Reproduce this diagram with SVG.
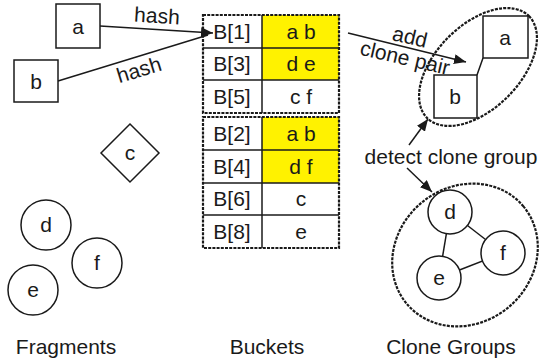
<svg xmlns="http://www.w3.org/2000/svg" width="540" height="362" viewBox="0 0 540 362">
<defs>
<style>
text{font-family:"Liberation Sans",Arial,sans-serif;font-size:21px;fill:#1a1a1a;text-anchor:middle}
.n{fill:#fff;stroke:#1a1a1a;stroke-width:1.5}
.c{stroke:#1a1a1a;stroke-width:1.5;fill:none}
.d{fill:none;stroke:#1a1a1a;stroke-width:2.2;stroke-dasharray:3 1.2}
.y{fill:#FFF200}
.g{stroke:#1a1a1a;stroke-width:1.5}
</style>
<marker id="ah" viewBox="0 0 12 10" refX="12" refY="5" markerWidth="12" markerHeight="10" markerUnits="userSpaceOnUse" orient="auto">
<path d="M0,0 L12,5 L0,10 Z" fill="#1a1a1a"/>
</marker>
</defs>
<rect width="540" height="362" fill="#fff"/>

<g id="connectors">
<line class="c" x1="100" y1="26" x2="213" y2="33" marker-end="url(#ah)"/>
<line class="c" x1="58" y1="81" x2="208" y2="35"/>
<line class="c" x1="348" y1="33" x2="466" y2="62" marker-end="url(#ah)"/>
<line class="c" x1="409" y1="145" x2="428" y2="119" marker-end="url(#ah)"/>
<line class="c" x1="407" y1="168" x2="432" y2="192" marker-end="url(#ah)"/>
<line class="c" x1="483" y1="58" x2="477" y2="75"/>
<line class="c" x1="450" y1="212" x2="503" y2="253"/>
<line class="c" x1="450" y1="212" x2="439" y2="278"/>
<line class="c" x1="439" y1="278" x2="503" y2="253"/>
<g transform="translate(157,16) rotate(3.6)"><text y="7">hash</text></g>
<g transform="translate(139,70) rotate(-17)"><text y="7">hash</text></g>
<g transform="translate(410,37) rotate(13)"><text y="7">add</text></g>
<g transform="translate(405,58) rotate(13)"><text y="7">clone pair</text></g>
<text x="451" y="164">detect clone group</text>
</g>

<g id="frag-a"><rect class="n" x="56" y="4" width="44" height="44"/><text x="78" y="34">a</text></g>
<g id="frag-b"><rect class="n" x="14" y="60" width="44" height="42"/><text x="36" y="89">b</text></g>
<g id="frag-c"><polygon class="n" points="130,124 159,153 130,182 101,153"/><text x="130" y="160">c</text></g>
<g id="frag-d"><circle class="n" cx="46" cy="225" r="25"/><text x="46" y="232">d</text></g>
<g id="frag-f"><circle class="n" cx="97" cy="263" r="25"/><text x="97" y="270">f</text></g>
<g id="frag-e"><circle class="n" cx="33" cy="290" r="25"/><text x="33" y="297">e</text></g>

<g id="buckets-upper">
<rect class="y" x="262" y="15" width="77" height="65"/>
<line class="g" x1="203" y1="48" x2="339" y2="48"/>
<line class="g" x1="203" y1="80" x2="339" y2="80"/>
<line class="g" x1="262" y1="15" x2="262" y2="113"/>
<rect class="d" x="203" y="15" width="136" height="98"/>
<text x="232" y="39">B[1]</text><text x="301" y="39">a b</text>
<text x="232" y="71">B[3]</text><text x="301" y="71">d e</text>
<text x="232" y="104">B[5]</text><text x="301" y="104">c f</text>
</g>
<g id="buckets-lower">
<rect class="y" x="262" y="117" width="77" height="66"/>
<line class="g" x1="203" y1="150" x2="339" y2="150"/>
<line class="g" x1="203" y1="183" x2="339" y2="183"/>
<line class="g" x1="203" y1="215" x2="339" y2="215"/>
<line class="g" x1="262" y1="117" x2="262" y2="248"/>
<rect class="d" x="203" y="117" width="136" height="131"/>
<text x="232" y="141">B[2]</text><text x="301" y="141">a b</text>
<text x="232" y="174">B[4]</text><text x="301" y="174">d f</text>
<text x="232" y="206">B[6]</text><text x="301" y="206">c</text>
<text x="232" y="239">B[8]</text><text x="301" y="239">e</text>
</g>

<g id="group-ab">
<ellipse class="d" cx="478" cy="67" rx="72" ry="42" transform="rotate(-45 478 67)"/>
<rect class="n" x="483" y="16" width="45" height="42"/><text x="505" y="45">a</text>
<rect class="n" x="434" y="75" width="43" height="43"/><text x="455" y="104">b</text>
</g>
<g id="group-def">
<ellipse class="d" cx="465" cy="255" rx="76" ry="68" transform="rotate(-40 465 255)"/>
<circle class="n" cx="450" cy="212" r="22"/><text x="450" y="219">d</text>
<circle class="n" cx="503" cy="253" r="22"/><text x="503" y="260">f</text>
<circle class="n" cx="439" cy="278" r="22"/><text x="439" y="285">e</text>
</g>

<g id="labels">
<text x="66" y="354">Fragments</text>
<text x="267" y="354">Buckets</text>
<text x="451" y="354">Clone Groups</text>
</g>
</svg>
